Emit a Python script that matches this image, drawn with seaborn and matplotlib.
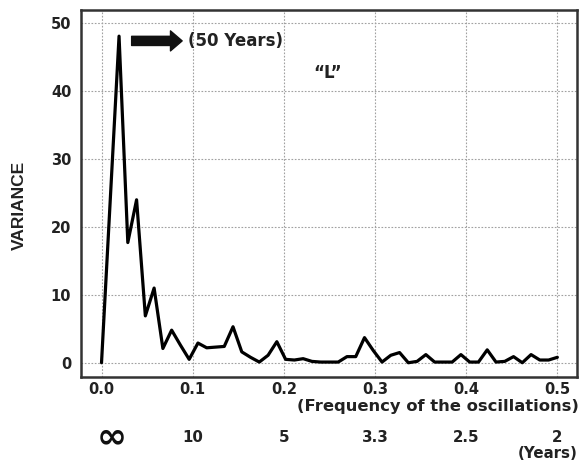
import matplotlib
matplotlib.use("Agg")
import matplotlib.pyplot as plt
import matplotlib.transforms as mtransforms
import seaborn as sns
import pandas as pd

# ---- data ----
harmonic = [0, 2, 3, 4, 5, 6, 7, 8, 9, 10, 11, 12, 13, 14, 15, 16, 17, 18, 19, 20,
            21, 22, 23, 24, 25, 26, 27, 28, 29, 30, 31, 32, 33, 34, 35, 36, 37, 38,
            39, 40, 41, 42, 43, 44, 45, 46, 47, 48, 49, 50, 51, 52]
n_years = 104
variance = [0.0, 48.1, 17.7, 24.0, 6.9, 11.0, 2.1, 4.8, 2.6, 0.5, 2.9, 2.2, 2.3, 2.4,
            5.3, 1.6, 0.8, 0.1, 1.1, 3.1, 0.5, 0.4, 0.6, 0.2, 0.1, 0.1, 0.1, 0.9,
            0.9, 3.7, 1.8, 0.1, 1.1, 1.5, 0.0, 0.2, 1.2, 0.1, 0.1, 0.1, 1.2, 0.1,
            0.1, 1.9, 0.1, 0.2, 0.9, 0.0, 1.2, 0.4, 0.4, 0.8]
freq = [k / n_years for k in harmonic]

x_ticks = [0.0, 0.1, 0.2, 0.3, 0.4, 0.5]
x_ticklabels = ["0.0", "0.1", "0.2", "0.3", "0.4", "0.5"]
period_labels = ["\u221e", "10", "5", "3.3", "2.5", "2"]
y_ticks = [0, 10, 20, 30, 40, 50]

df = pd.DataFrame({"freq": freq, "variance": variance})

# ---- style ----
sns.set_theme(style="white")
plt.rcParams["font.family"] = ["DejaVu Sans"]

fig = plt.figure(figsize=(5.82, 4.68), dpi=100)
W, H = 582, 468
ax = fig.add_axes([81 / W, 1 - 377 / H, (576.5 - 81) / W, (377 - 10) / H])

sns.lineplot(data=df, x="freq", y="variance", ax=ax, color="black", linewidth=2.3)

ax.set_xlim(-0.0225, 0.5210)
ax.set_ylim(-2.1, 51.95)
ax.set_xticks(x_ticks)
ax.set_xticklabels(x_ticklabels)
ax.set_yticks(y_ticks)
ax.set_xlabel("")
ax.set_ylabel("")
ax.grid(True, color="#a0a0a0", linestyle=(0, (1.5, 1.5)), linewidth=0.8)
ax.tick_params(axis="both", length=0, labelsize=10.5, colors="#222222")
ax.tick_params(axis="x", pad=3.5)
ax.tick_params(axis="y", pad=7)
for lab in ax.get_xticklabels() + ax.get_yticklabels():
    lab.set_fontweight("bold")
for sp in ax.spines.values():
    sp.set_visible(True)
    sp.set_color("#333333")
    sp.set_linewidth(1.8)

# arrow and annotations
ax.annotate("", xy=(0.0915, 47.4), xytext=(0.030, 47.4),
            arrowprops=dict(arrowstyle="simple,head_length=0.7,head_width=1.2,tail_width=0.55",
                            fc="#111111", ec="#111111"))
ax.text(0.095, 47.4, "(50 Years)", fontsize=12, fontweight="bold", color="#222222",
        ha="left", va="center")
ax.text(0.248, 42.7, "\u201cL\u201d", fontsize=12, fontweight="bold", color="#222222",
        ha="center", va="center")

# axis texts
fig.text(19 / W, 1 - 205 / H, "VARIANCE", rotation=90, ha="center", va="center",
         fontsize=12.5, fontweight="bold", family=["Liberation Sans", "DejaVu Sans"],
         color="#222222")
fig.text(579 / W, 1 - 406 / H, "(Frequency of the oscillations)", ha="right", va="center",
         fontsize=11.8, fontweight="bold", color="#222222")
fig.text(578 / W, 1 - 453 / H, "(Years)", ha="right", va="center",
         fontsize=10.8, fontweight="bold", color="#222222")

trans = mtransforms.blended_transform_factory(ax.transData, fig.transFigure)
for xv, lab in zip(x_ticks, period_labels):
    if lab == "\u221e":
        ax.text(xv + 0.011, 1 - 437 / H, lab, transform=trans, ha="center", va="center",
                fontsize=26, fontweight="bold", color="#111111")
    else:
        ax.text(xv, 1 - 437 / H, lab, transform=trans, ha="center", va="center",
                fontsize=10.8, fontweight="bold", color="#222222")

fig.savefig("out.png", dpi=100)
